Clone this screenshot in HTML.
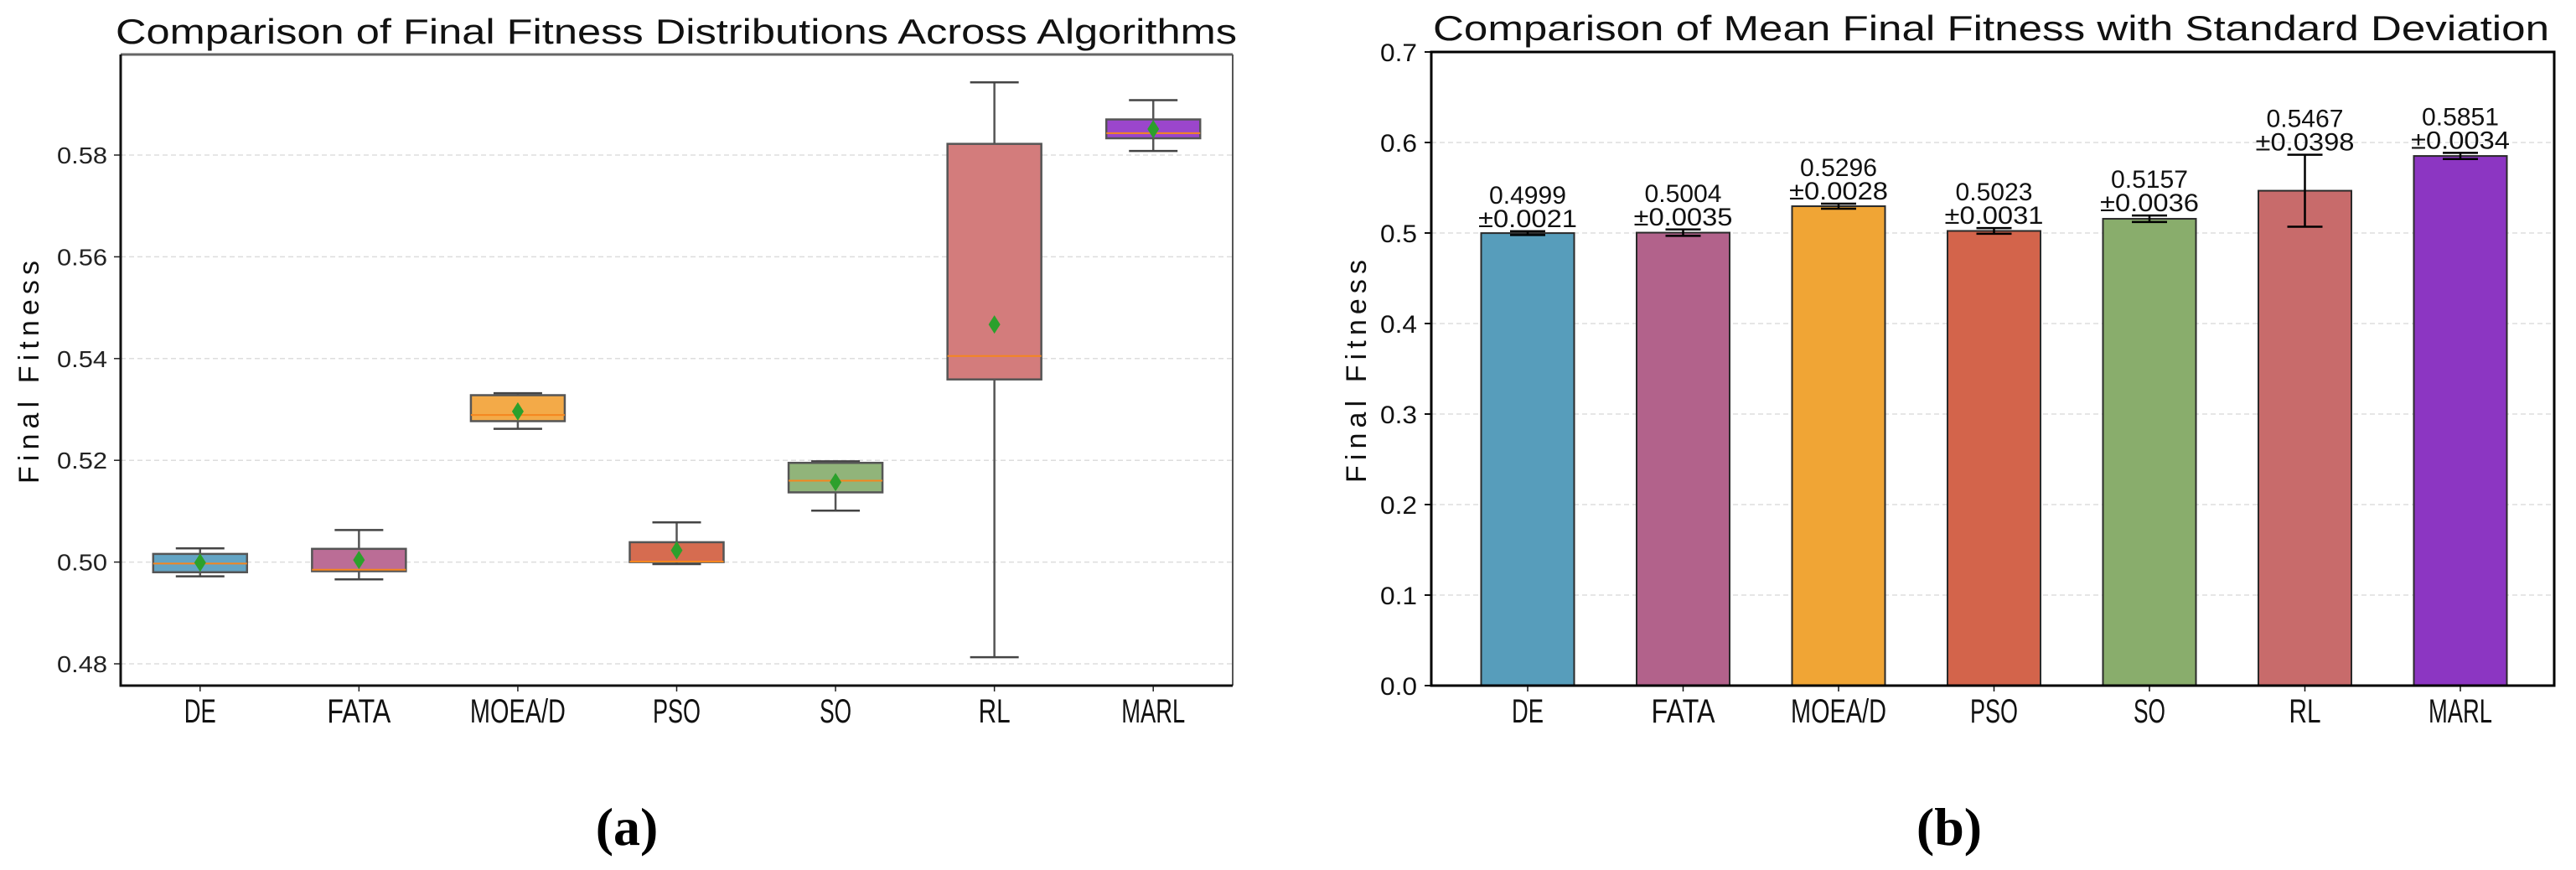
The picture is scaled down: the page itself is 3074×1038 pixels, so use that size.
<!DOCTYPE html>
<html><head><meta charset="utf-8"><style>
html,body{margin:0;padding:0;background:#fff;}
svg{display:block;}
text{font-family:"Liberation Sans","Noto Sans CJK SC",sans-serif;}
</style></head><body>
<svg id="fig" width="3074" height="1038" viewBox="0 0 3074 1038" xmlns="http://www.w3.org/2000/svg">
<g id="chartA"></g>
<g id="chartB"></g>
<text x="748" y="1008" text-anchor="middle" font-size="64" font-weight="bold" style="font-family:'Liberation Serif',serif">(a)</text>
<text x="2326" y="1008" text-anchor="middle" font-size="64" font-weight="bold" style="font-family:'Liberation Serif',serif">(b)</text>
</svg>
<script>
const categories = ["DE","FATA","MOEA/D","PSO","SO","RL","MARL"];
const boxLow = [0.4972,0.4966,0.5262,0.4996,0.5101,0.4813,0.5808];
const boxQ1 = [0.4980,0.4982,0.5277,0.5000,0.5137,0.5359,0.5833];
const boxMedian = [0.4997,0.4985,0.5289,0.5001,0.5160,0.5405,0.5843];
const boxQ3 = [0.5016,0.5026,0.5328,0.5039,0.5195,0.5822,0.5870];
const boxHigh = [0.5027,0.5063,0.5332,0.5078,0.5198,0.5943,0.5908];
const meanValues = [0.4999,0.5004,0.5296,0.5023,0.5157,0.5467,0.5851];
const stdValues = [0.0021,0.0035,0.0028,0.0031,0.0036,0.0398,0.0034];
const boxTicks = [0.48,0.50,0.52,0.54,0.56,0.58];
const boxTickLabels = ["0.48","0.50","0.52","0.54","0.56","0.58"];
const barTicks = [0,0.1,0.2,0.3,0.4,0.5,0.6,0.7];
const barTickLabels = ["0.0","0.1","0.2","0.3","0.4","0.5","0.6","0.7"];
const boxColors = ["#63a4c4","#bb6d96","#f3aa48","#d66c50","#91b47a","#d37c7c","#9b46cc"];
const barColors = ["#579dbb","#b2628b","#f0a535","#d3644b","#89ad6c","#c86b6b","#8c36c2"];

const NS="http://www.w3.org/2000/svg";
function mk(parent,tag,attrs){const e=document.createElementNS(NS,tag);for(const k in attrs)e.setAttribute(k,attrs[k]);parent.appendChild(e);return e;}

// ---------- Chart A ----------
const A={l:144,r:1471,t:65,b:818};
const yA=v=>792-(v-0.48)*6070;
const xA=i=>A.l+(i+0.5)*(A.r-A.l)/7;
const gA=document.getElementById('chartA');
boxTicks.forEach((v,i)=>{
  const gl=mk(gA,'line',{x1:A.l,x2:A.r,y1:yA(v),y2:yA(v),stroke:'#dddddd','stroke-width':1.5,'stroke-dasharray':'6,4'});
  
  
  mk(gA,'line',{x1:A.l-8,x2:A.l,y1:yA(v),y2:yA(v),stroke:'#222','stroke-width':1.5});
  const t=mk(gA,'text',{x:128,y:yA(v)+10,'text-anchor':'end','font-size':28,fill:'#222',textLength:60,lengthAdjust:'spacingAndGlyphs'});
  t.textContent=boxTickLabels[i];
  
  
});
categories.forEach((c,i)=>{
  const x=xA(i), w=56;
  const g=mk(gA,'g',{});
  
  
  mk(g,'line',{x1:x,x2:x,y1:yA(boxHigh[i]),y2:yA(boxQ3[i]),stroke:'#555','stroke-width':2.5});
  mk(g,'line',{x1:x,x2:x,y1:yA(boxQ1[i]),y2:yA(boxLow[i]),stroke:'#555','stroke-width':2.5});
  mk(g,'line',{x1:x-29,x2:x+29,y1:yA(boxHigh[i]),y2:yA(boxHigh[i]),stroke:'#444','stroke-width':2.5});
  mk(g,'line',{x1:x-29,x2:x+29,y1:yA(boxLow[i]),y2:yA(boxLow[i]),stroke:'#444','stroke-width':2.5});
  mk(g,'rect',{x:x-w,y:yA(boxQ3[i]),width:2*w,height:Math.max(1,yA(boxQ1[i])-yA(boxQ3[i])),fill:boxColors[i],stroke:'#555','stroke-width':2.5});
  mk(g,'line',{x1:x-w,x2:x+w,y1:yA(boxMedian[i]),y2:yA(boxMedian[i]),stroke:'#f5861f','stroke-width':2});
  const my=yA(meanValues[i]);
  const d=mk(g,'path',{d:`M${x},${my-11} L${x+7},${my} L${x},${my+11} L${x-7},${my} Z`,fill:'#2ca02c'});
  
  
  mk(gA,'line',{x1:x,x2:x,y1:A.b,y2:A.b+7,stroke:'#222','stroke-width':1.5});
  const t=mk(gA,'text',{x:x,y:862,'text-anchor':'middle','font-size':40,fill:'#111'});
  t.setAttribute('textLength',c.length*19);t.setAttribute('lengthAdjust','spacingAndGlyphs');
  t.textContent=c;
  
  
});
mk(gA,'line',{x1:A.l,x2:A.r,y1:A.t,y2:A.t,stroke:'#666','stroke-width':3});
mk(gA,'line',{x1:A.r,x2:A.r,y1:A.t,y2:A.b,stroke:'#555','stroke-width':2});
mk(gA,'line',{x1:A.l,x2:A.l,y1:A.t,y2:A.b+1.5,stroke:'#111','stroke-width':3});
mk(gA,'line',{x1:A.l,x2:A.r,y1:A.b,y2:A.b,stroke:'#111','stroke-width':3});
let tt=mk(gA,'text',{x:138,y:52,'font-size':42,fill:'#111',textLength:1338,lengthAdjust:'spacingAndGlyphs'});
tt.textContent='Comparison of Final Fitness Distributions Across Algorithms';


let yl=mk(gA,'text',{x:0,y:0,'font-size':34,fill:'#111','text-anchor':'middle',transform:'translate(46,444) rotate(-90)',textLength:266,lengthAdjust:'spacing'});
yl.textContent='Final Fitness';



// ---------- Chart B ----------
const B={l:1708,r:3048,t:62,b:818};
const yB=v=>B.b-v*1080;
const sB=185.5;
const xB=i=>1823+i*sB;
const gB=document.getElementById('chartB');
barTicks.forEach((v,i)=>{
  if(v>0&&v<0.7){const gl=mk(gB,'line',{x1:B.l,x2:B.r,y1:yB(v),y2:yB(v),stroke:'#dddddd','stroke-width':1.5,'stroke-dasharray':'6,4'});
  
  }
  mk(gB,'line',{x1:B.l-8,x2:B.l,y1:yB(v),y2:yB(v),stroke:'#111','stroke-width':2});
  const t=mk(gB,'text',{x:1691,y:yB(v)+11,'text-anchor':'end','font-size':30,fill:'#111',textLength:44,lengthAdjust:'spacingAndGlyphs'});
  t.textContent=barTickLabels[i];
  
  
});
categories.forEach((c,i)=>{
  const x=xB(i), w=55.5;
  const r=mk(gB,'rect',{x:x-w,y:yB(meanValues[i]),width:2*w,height:B.b-yB(meanValues[i]),fill:barColors[i],stroke:'#2a2a2a','stroke-width':2});
  
  
  const hi=yB(meanValues[i]+stdValues[i]), lo=yB(meanValues[i]-stdValues[i]);
  const g=mk(gB,'g',{stroke:'#000','stroke-width':2.5});
  
  
  mk(g,'line',{x1:x,x2:x,y1:hi,y2:lo});
  mk(g,'line',{x1:x-21,x2:x+21,y1:hi,y2:hi});
  mk(g,'line',{x1:x-21,x2:x+21,y1:lo,y2:lo});
  const l1=mk(gB,'text',{x:x,y:hi-33,'text-anchor':'middle','font-size':30,fill:'#111',textLength:92,lengthAdjust:'spacingAndGlyphs'});
  l1.textContent=meanValues[i].toFixed(4);
  
  
  const l2=mk(gB,'text',{x:x,y:hi-5,'text-anchor':'middle','font-size':30,fill:'#111',textLength:118,lengthAdjust:'spacingAndGlyphs'});
  l2.textContent='±'+stdValues[i].toFixed(4);
  
  
  mk(gB,'line',{x1:x,x2:x,y1:B.b,y2:B.b+7,stroke:'#111','stroke-width':1.5});
  const t=mk(gB,'text',{x:x,y:862,'text-anchor':'middle','font-size':40,fill:'#111'});
  t.setAttribute('textLength',c.length*19);t.setAttribute('lengthAdjust','spacingAndGlyphs');
  t.textContent=c;
  
  
});
mk(gB,'rect',{x:B.l,y:B.t,width:B.r-B.l,height:B.b-B.t,fill:'none',stroke:'#000','stroke-width':3});
tt=mk(gB,'text',{x:1710,y:48,'font-size':42,fill:'#111',textLength:1332,lengthAdjust:'spacingAndGlyphs'});
tt.textContent='Comparison of Mean Final Fitness with Standard Deviation';


yl=mk(gB,'text',{x:0,y:0,'font-size':34,fill:'#111','text-anchor':'middle',transform:'translate(1630,443) rotate(-90)',textLength:266,lengthAdjust:'spacing'});
yl.textContent='Final Fitness';


</script>
</body></html>
